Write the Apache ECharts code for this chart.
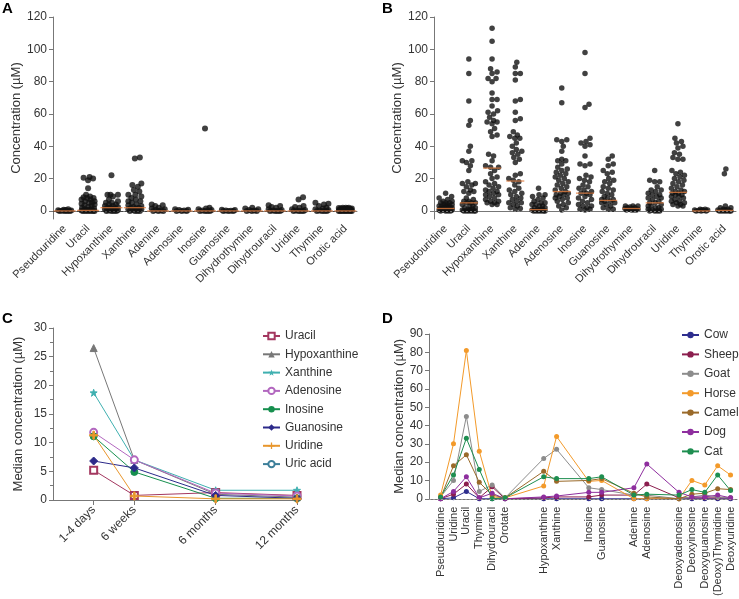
<!DOCTYPE html>
<html><head><meta charset="utf-8">
<script src="https://cdn.jsdelivr.net/npm/echarts@6/dist/echarts.min.js"></script>
<style>html,body{margin:0;padding:0;background:#fff}#c{width:739px;height:599px}</style>
</head><body><div id="c"></div>
<script>
// ---------- Panels A / B : categories ----------
const catsAB = ['Pseudouridine','Uracil','Hypoxanthine','Xanthine','Adenine','Adenosine','Inosine','Guanosine','Dihydrothymine','Dihydrouracil','Uridine','Thymine','Orotic acid'];
const yTicksAB = [0, 20, 40, 60, 80, 100, 120];

// Panel A values (µM)
const aPseudouridine = [1, 0.8, 0.5, 0.4, 0.2, 0.1, 0, 0, 0, 0];
const aUracil = [21, 20.5, 20, 19, 14, 10, 9, 8.5, 8, 8, 7, 7, 6, 6, 5, 5, 4.5, 4, 3.5, 3, 2.5, 2, 1.5, 1, 1, 0.5, 0.5, 0.3, 0, 0, 0, 0, 0, 0];
const aHypoxanthine = [22, 10, 10, 10, 9, 7, 6, 5, 5, 4, 4, 3, 3, 2.5, 2, 2, 1.5, 1, 1, 0.5, 0.3, 0, 0, 0, 0];
const aXanthine = [33, 32.5, 17, 16, 15, 13, 12, 10, 10, 9, 8, 7, 6, 6, 5, 4, 3.5, 3, 2.5, 2, 2, 1.5, 1, 1, 0.5, 0, 0, 0, 0];
const aAdenine = [4, 3.5, 3, 2, 1.5, 1, 0.5, 0.3, 0, 0, 0];
const aAdenosine = [1, 0.7, 0.5, 0.3, 0, 0, 0];
const aInosine = [51, 2, 1.5, 1, 0.5, 0.3, 0, 0, 0, 0];
const aGuanosine = [0.8, 0.5, 0.3, 0.1, 0, 0, 0];
const aDihydrothymine = [2, 1.5, 1, 0.5, 0.2, 0, 0, 0];
const aDihydrouracil = [3.5, 3, 2.5, 2, 1, 0.5, 0.2, 0, 0, 0, 0];
const aUridine = [8.5, 7, 3, 2.5, 2, 1, 0.5, 0.2, 0, 0, 0, 0];
const aThymine = [5, 4.5, 4, 3, 2, 1.5, 1, 0.5, 0.2, 0, 0, 0, 0];
const aOroticAcid = [2, 2, 2, 1.8, 1.5, 1.5, 1.5, 1.2, 1.2, 1, 1, 1, 1, 0.8, 0.8, 0.5, 0.5, 0.5, 0.5, 0.3, 0.3, 0.2, 0.2, 0, 0, 0, 0, 0, 0, 0];
const aMedians = [0, 0.3, 2, 2, 0, 0, 0, 0, 0, 0, 0, 0, 0];

// Panel B values (µM)
const bPseudouridine = [11, 9, 8, 7, 6, 6, 5, 5, 5, 4, 4, 4, 3, 3, 3, 3, 2, 2, 2, 2, 2, 1.5, 1.5, 1, 1, 1, 1, 1, 0.5, 0.5, 0.5, 0.5, 0, 0, 0, 0];
const bUracil = [94, 85, 68, 56, 53, 40, 37, 31, 31, 30, 28, 25, 18, 17, 17, 16, 15, 13, 12, 12, 11, 8, 7, 6, 6, 5, 5, 5, 4, 3, 3, 2, 2, 1, 1, 0.5, 0.5, 0, 0, 0, 0, 0, 0];
const bHypoxanthine = [113, 105, 94, 88, 86, 85, 82, 82, 80, 73, 69, 69, 65, 62, 61, 60, 58, 56, 55, 55, 54, 51, 49, 47, 46, 35, 34, 31, 28, 27, 27, 25, 23, 21, 20, 18, 17, 16, 15, 14, 13, 12, 12, 11, 10, 10, 9, 8, 7, 6, 6, 5, 5, 4, 4];
const bXanthine = [92, 89, 85, 85, 81, 69, 68, 61, 57, 56, 49, 47, 46, 45, 45, 42, 40, 38, 37, 36, 35, 33, 32, 30, 23, 22, 20, 19, 18, 16, 14, 13, 12, 11, 10, 9, 8, 7, 6, 5, 5, 4, 3, 2, 1.5, 1];
const bAdenine = [14, 10, 10, 9, 8, 7, 6, 5, 5, 4, 4, 3, 3, 2, 2, 1, 1, 0.5, 0.5, 0, 0, 0, 0, 0, 0];
const bAdenosine = [76, 67, 44, 44, 43, 40, 37, 32, 31, 31, 29, 27, 26, 25, 24, 23, 22, 21, 20, 19, 18, 17, 16, 15, 14, 13, 12, 11, 11, 10, 10, 9, 8, 8, 7, 6, 5, 4, 3, 2, 0.5];
const bInosine = [98, 85, 66, 64, 45, 43, 42, 41, 40, 34, 29, 29, 28, 22, 21, 20, 19, 18, 16, 15, 14, 13, 12, 11, 11, 10, 9, 8, 7, 6, 5, 4, 3, 3, 2, 1, 1, 0.5];
const bGuanosine = [34, 32, 29, 28, 25, 24, 23, 20, 19, 18, 17, 15, 14, 13, 12, 11, 10, 9, 8, 7, 7, 6, 6, 5, 5, 4, 3, 2, 1, 1];
const bDihydrothymine = [3, 3, 3, 2.5, 2, 2, 1.5, 1.5, 1, 1, 0.5, 0.5, 0.5, 0.5];
const bDihydrouracil = [25, 19, 18, 18, 15, 13, 13, 12, 11, 10, 10, 9, 8, 8, 7, 6, 5, 5, 4, 3, 3, 2, 2, 1, 1, 0.5, 0, 0, 0, 0];
const bUridine = [54, 45, 43, 42, 40, 39, 36, 35, 33, 32, 32, 25, 24, 23, 22, 21, 20, 19, 18, 17, 16, 15, 14, 13, 12, 12, 11, 11, 10, 10, 9, 9, 8, 7, 6, 6, 5, 5, 4, 4, 3, 3];
const bThymine = [1, 1, 0.8, 0.5, 0.5, 0.3, 0.2, 0, 0, 0];
const bOroticAcid = [26, 23, 3, 2, 2, 1, 1, 0.5, 0.5, 0, 0, 0, 0, 0, 0];
const bMedians = [1.5, 5, 26.5, 18.5, 0.8, 12, 11, 6.5, 1.5, 5, 11.5, 0, 0.3];

// ---------- Panel C ----------
const cTimes = ['1-4 days', '6 weeks', '6 months', '12 months'];
const cTimePos = [0, 0.5, 1.5, 2.5];   // relative spacing of the time points on the axis
const cUracil = [5.2, 0.8, 1.3, 0.8];
const cHypoxanthine = [26.5, 7.0, 1.0, 0.5];
const cXanthine = [18.7, 7.0, 1.7, 1.7];
const cAdenosine = [11.8, 7.0, 1.2, 0.7];
const cInosine = [11.1, 4.9, 0.3, 0.3];
const cGuanosine = [6.8, 5.6, 0.8, 0.3];
const cUridine = [11.3, 0.7, 0.2, 0.2];
const cUricAcid = [null, null, null, null]; // not visible within plotted range

// ---------- Panel D ----------
const dCats = ['Pseudouridine','Uridine','Uracil','Thymine','Dihydrouracil','Orotate','Hypoxanthine','Xanthine','Inosine','Guanosine','Adenine','Adenosine','Deoxyadenosine','Deoxyinosine','Deoxyguanosine','(Deoxy)Thymidine','Deoxyuridine'];
const dPos = [0, 1, 2, 3, 4, 5, 8, 9, 11.5, 12.5, 15, 16, 18.5, 19.5, 20.5, 21.5, 22.5];
const dCow   = [0, 0.5, 4, 0, 0, 0, 0, 0, 0, 0, 0, 0, 0, 0, 0, 0, 0];
const dSheep = [0, 2.5, 8, 0.5, 6.5, 0, 0.5, 1, 1, 2, 2, 8, 0.5, 0.5, 0.5, 0.5, 0.5];
const dGoat  = [1, 10, 45, 4, 7.5, 0.5, 22, 27, 6, 5, 2, 2, 0, 1, 2, 1, 0.5];
const dHorse = [2, 30, 81, 26, 1, 0.5, 7, 34, 9.5, 10, 0, 0, 0, 10, 7.5, 18, 13];
const dCamel = [0.5, 18, 24, 9, 2, 0.5, 15, 9.5, 10, 11, 3, 1, 0, 2.5, 3, 5.5, 5];
const dDog   = [0, 4, 12, 0.5, 3, 0, 1, 1.5, 3.5, 3.5, 6, 19, 3.5, 1, 1, 2, 0.5];
const dCat   = [1, 13, 33, 16, 0, 0.5, 12, 11, 11, 12, 2, 2.5, 2, 5, 3.5, 13, 4.5];

// ================= build =================
const FONT = 'Liberation Sans, Arial, sans-serif';
const TXT = '#333';
const AXC = '#777';

function swarm(vals, pxPerUnit, d, maxW) {
  const sorted = vals.slice().sort((a, b) => a - b);
  const placed = [];
  const out = [];
  for (const v of sorted) {
    const y = v * pxPerUnit;
    let best = 0, bestDist = -1;
    for (let k = 0; k <= maxW * 4; k++) {
      const x = (k % 2 ? 1 : -1) * Math.ceil(k / 2) * 0.5;
      let md = Infinity;
      for (const p of placed) {
        const dd = Math.hypot(p[0] - x, p[1] - y);
        if (dd < md) md = dd;
      }
      if (md >= d) { best = x; bestDist = md; break; }
      if (md > bestDist + 0.01) { bestDist = md; best = x; }
    }
    placed.push([best, y]);
    out.push([best, v]);
  }
  return out;
}

function swarmData(arrs, pxPerUnit, d, maxW) {
  const data = [];
  arrs.forEach((vals, i) => {
    swarm(vals, pxPerUnit, d, maxW).forEach(([dx, v]) => {
      data.push({ value: [i, v], symbolOffset: [dx, 0] });
    });
  });
  return data;
}

const aArrs = [aPseudouridine, aUracil, aHypoxanthine, aXanthine, aAdenine, aAdenosine, aInosine, aGuanosine, aDihydrothymine, aDihydrouracil, aUridine, aThymine, aOroticAcid];
const bArrs = [bPseudouridine, bUracil, bHypoxanthine, bXanthine, bAdenine, bAdenosine, bInosine, bGuanosine, bDihydrothymine, bDihydrouracil, bUridine, bThymine, bOroticAcid];
const pxU = 202 / 125;

function abX(gi) {
  return {
    type: 'category', gridIndex: gi, data: catsAB, boundaryGap: true,
    axisLine: { lineStyle: { color: AXC, width: 1 } }, axisTick: { show: false },
    axisLabel: { rotate: 45, color: TXT, fontSize: 11, fontFamily: FONT, margin: 8, interval: 0 }
  };
}
function abY(gi, gap) {
  return {
    type: 'value', gridIndex: gi, min: -5, max: 120,
    name: 'Concentration (µM)', nameLocation: 'middle', nameGap: gap,
    nameTextStyle: { color: TXT, fontSize: 13, fontFamily: FONT },
    splitLine: { show: false },
    axisLine: { show: true, onZero: false, lineStyle: { color: AXC } },
    axisTick: { show: true, length: 4, lineStyle: { color: AXC }, customValues: yTicksAB },
    axisLabel: { color: TXT, fontSize: 12, fontFamily: FONT, margin: 6, customValues: yTicksAB }
  };
}

const zeroLine = (col) => ({
  silent: true, symbol: 'none', label: { show: false },
  lineStyle: { color: col, type: [2, 2], width: 1 },
  data: [{ yAxis: 0 }]
});

const medianMark = (gi, meds, w) => ({
  type: 'scatter', xAxisIndex: gi, yAxisIndex: gi, symbol: 'rect', symbolSize: [w, 1.3],
  itemStyle: { color: '#e07b3c' }, z: 5, silent: true,
  data: meds.map((m, i) => [i, m])
});

const plusPath = 'path://M4,0 L6,0 L6,4 L10,4 L10,6 L6,6 L6,10 L4,10 L4,6 L0,6 L0,4 L4,4 Z';
const starPath = 'path://M5,0 L6.2,3.4 L10,3.6 L7,5.8 L8.1,9.5 L5,7.3 L1.9,9.5 L3,5.8 L0,3.6 L3.8,3.4 Z';

const cSeriesDef = [
  ['Uracil', cUracil, '#a3375f', 'emptyRect', 7],
  ['Hypoxanthine', cHypoxanthine, '#777777', 'triangle', 7],
  ['Xanthine', cXanthine, '#3fb0b0', starPath, 7],
  ['Adenosine', cAdenosine, '#b267bf', 'emptyCircle', 7],
  ['Inosine', cInosine, '#168f4e', 'circle', 7],
  ['Guanosine', cGuanosine, '#2c2a8a', 'diamond', 8],
  ['Uridine', cUridine, '#e8962c', plusPath, 8],
  ['Uric acid', cUricAcid, '#3d7f9a', 'emptyCircle', 7]
];
const dSeriesDef = [
  ['Cow', dCow, '#2e2e8e'],
  ['Sheep', dSheep, '#8b1e4e'],
  ['Goat', dGoat, '#8c8c8c'],
  ['Horse', dHorse, '#f39a2a'],
  ['Camel', dCamel, '#9a6a2a'],
  ['Dog', dDog, '#8e2e9e'],
  ['Cat', dCat, '#1e8e50']
];

const series = [
  { type: 'scatter', xAxisIndex: 0, yAxisIndex: 0, symbolSize: 6, itemStyle: { color: '#111' },
    data: swarmData(aArrs, pxU, 5, 6.5), markLine: zeroLine('#444'), silent: true },
  medianMark(0, aMedians, 22),
  { type: 'scatter', xAxisIndex: 1, yAxisIndex: 1, symbolSize: 5.5, itemStyle: { color: '#111' },
    data: swarmData(bArrs, pxU, 5, 6.5), markLine: zeroLine('#777'), silent: true },
  medianMark(1, bMedians, 18)
];
cSeriesDef.forEach(([name, vals, col, sym, sz]) => {
  series.push({
    type: 'line', name, xAxisIndex: 2, yAxisIndex: 2, symbol: sym, symbolSize: sz,
    showAllSymbol: true, connectNulls: false,
    lineStyle: { color: col, width: 1 }, itemStyle: { color: col, borderColor: col },
    data: vals.map((v, i) => [cTimePos[i], v])
  });
});
dSeriesDef.forEach(([name, vals, col], k) => {
  series.push({
    type: 'line', name, xAxisIndex: 3, yAxisIndex: 3, symbol: 'circle', symbolSize: 5,
    lineStyle: { color: col, width: 1 }, itemStyle: { color: col },
    data: vals.map((v, i) => [dPos[i], v]),
    markLine: k === 0 ? zeroLine('#999') : undefined
  });
});

const option = {
  animation: false,
  textStyle: { fontFamily: FONT },
  graphic: [
    { type: 'text', left: 2, top: 1, style: { text: 'A', font: 'bold 15px ' + FONT, fill: '#000' } },
    { type: 'text', left: 382, top: 1, style: { text: 'B', font: 'bold 15px ' + FONT, fill: '#000' } },
    { type: 'text', left: 2, top: 311, style: { text: 'C', font: 'bold 15px ' + FONT, fill: '#000' } },
    { type: 'text', left: 382, top: 311, style: { text: 'D', font: 'bold 15px ' + FONT, fill: '#000' } }
  ],
  grid: [
    { left: 53, top: 17, width: 304, height: 202 },
    { left: 434, top: 17, width: 302, height: 202 },
    { left: 53, top: 328, width: 244, height: 172 },
    { left: 429, top: 334, width: 308, height: 166 }
  ],
  xAxis: [
    abX(0), abX(1),
    { type: 'value', gridIndex: 2, min: -0.5, max: 2.5, splitLine: { show: false },
      axisLine: { onZero: false, lineStyle: { color: AXC } },
      axisTick: { show: true, length: 5, lineStyle: { color: AXC }, customValues: cTimePos },
      axisLabel: { rotate: 45, color: TXT, fontSize: 12, fontFamily: FONT, margin: 8, customValues: cTimePos,
        formatter: (v) => { const i = cTimePos.findIndex(p => Math.abs(p - v) < 1e-6); return i >= 0 ? cTimes[i] : ''; } } },
    { type: 'value', gridIndex: 3, min: -0.9, max: 23, splitLine: { show: false },
      axisLine: { onZero: false, lineStyle: { color: AXC } },
      axisTick: { show: false },
      axisLabel: { rotate: 90, color: TXT, fontSize: 11, fontFamily: FONT, margin: 8, customValues: dPos,
        formatter: (v) => { const i = dPos.findIndex(p => Math.abs(p - v) < 1e-6); return i >= 0 ? dCats[i] : ''; } } }
  ],
  yAxis: [
    abY(0, 30), abY(1, 30),
    { type: 'value', gridIndex: 2, min: 0, max: 30, interval: 5,
      name: 'Median concentration (µM)', nameLocation: 'middle', nameGap: 28,
      nameTextStyle: { color: TXT, fontSize: 13, fontFamily: FONT },
      splitLine: { show: false }, axisLine: { show: true, onZero: false, lineStyle: { color: AXC } },
      axisTick: { show: true, length: 4, lineStyle: { color: AXC } },
      minorTick: { show: true, splitNumber: 2, length: 3, lineStyle: { color: AXC } },
      axisLabel: { color: TXT, fontSize: 12, fontFamily: FONT, margin: 6 } },
    { type: 'value', gridIndex: 3, min: 0, max: 90, interval: 10,
      name: 'Median concentration (µM)', nameLocation: 'middle', nameGap: 22,
      nameTextStyle: { color: TXT, fontSize: 13, fontFamily: FONT },
      splitLine: { show: false }, axisLine: { show: true, onZero: false, lineStyle: { color: AXC } },
      axisTick: { show: true, length: 4, lineStyle: { color: AXC } },
      axisLabel: { color: TXT, fontSize: 12, fontFamily: FONT, margin: 6 } }
  ],
  legend: [
    { orient: 'vertical', left: 262, top: 330, itemWidth: 17, itemHeight: 8, itemGap: 6.3, padding: 0,
      textStyle: { color: TXT, fontSize: 12, fontFamily: FONT }, data: cSeriesDef.map(s => s[0]) },
    { orient: 'vertical', left: 681, top: 329, width: 70, itemWidth: 17, itemHeight: 8, itemGap: 7.4, padding: 0,
      textStyle: { color: TXT, fontSize: 12, fontFamily: FONT }, data: dSeriesDef.map(s => s[0]) }
  ],
  series
};

const chart = echarts.init(document.getElementById('c'), null, { renderer: 'canvas' });
chart.setOption(option);
</script>
</body></html>
